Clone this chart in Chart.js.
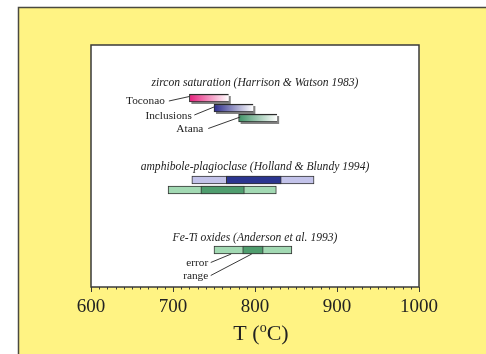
<!DOCTYPE html>
<html>
<head>
<meta charset="utf-8">
<script src="https://cdn.jsdelivr.net/npm/chart.js@4/dist/chart.umd.min.js"></script>
<style>
  html, body { margin: 0; padding: 0; background: #fff; }
  #wrap { width: 486px; height: 354px; }
</style>
</head>
<body>
<div id="wrap"><canvas id="c" width="486" height="354"></canvas></div>
<script>
// temperature axis
const tempMin = 600;
const tempMax = 1000;
const tempStep = 100;
const minorStep = 10;

// zircon saturation (Harrison & Watson 1983)
const zirconNames = ['Toconao', 'Inclusions', 'Atana'];
const zirconRange = [[720, 768], [750, 798], [780, 827]];
const zirconRow = [5.3, 6.3, 7.3];

// amphibole-plagioclase (Holland & Blundy 1994)
const amphError = [[723, 872], [694, 826]];
const amphRange = [[765, 832], [734, 787]];
const amphRow = [13.5, 14.5];

// Fe-Ti oxides (Anderson et al. 1993)
const fetiError = [[750, 845]];
const fetiRange = [[785, 810]];
const fetiRow = [20.5];

const groupTitles = [
  'zircon saturation (Harrison & Watson 1983)',
  'amphibole-plagioclase (Holland & Blundy 1994)',
  'Fe-Ti oxides (Anderson et al. 1993)'
];
const errorNames = ['error', 'range'];

const SERIF = '"Liberation Serif", "DejaVu Serif", serif';
const zirconColors = ['#e6207c', '#2c2c8c', '#3f9467'];

function rows(ranges, ys) {
  return ranges.map((r, i) => ({ x: r, y: ys[i] }));
}

function gradientFill(ctx) {
  const chart = ctx.chart;
  const base = zirconColors[ctx.dataIndex] || '#999';
  if (!chart.chartArea || !ctx.raw) return base;
  const xs = chart.scales.x;
  const g = chart.ctx.createLinearGradient(xs.getPixelForValue(ctx.raw.x[0]), 0, xs.getPixelForValue(ctx.raw.x[1]), 0);
  g.addColorStop(0, base);
  g.addColorStop(1, '#ffffff');
  return g;
}

// background panel, plot box, ticks, annotations
const decor = {
  id: 'decor',
  beforeDraw(chart) {
    const c = chart.ctx, a = chart.chartArea;
    c.save();
    c.fillStyle = '#ffffff';
    c.fillRect(0, 0, chart.width, chart.height);
    c.fillStyle = '#fff383';
    c.fillRect(18, 7, chart.width - 18, chart.height - 7);
    c.strokeStyle = '#4a4a40';
    c.lineWidth = 1.5;
    c.beginPath();
    c.moveTo(18.5, chart.height); c.lineTo(18.5, 7.5); c.lineTo(chart.width, 7.5);
    c.stroke();
    c.fillStyle = '#ffffff';
    c.fillRect(a.left, a.top, a.right - a.left, a.bottom - a.top);
    c.restore();
  },
  beforeDatasetsDraw(chart) {
    // drop shadow behind zircon bars
    const c = chart.ctx;
    const meta = chart.getDatasetMeta(0);
    c.save();
    c.fillStyle = 'rgba(90,90,90,0.75)';
    meta.data.forEach(el => {
      const p = el.getProps(['x', 'y', 'base', 'height'], true);
      c.fillRect(p.base + 2, p.y - p.height / 2 + 2, p.x - p.base, p.height);
    });
    c.restore();
  },
  afterDraw(chart) {
    const c = chart.ctx, a = chart.chartArea;
    const xs = chart.scales.x, ys = chart.scales.y;
    const X = v => xs.getPixelForValue(v), Y = v => ys.getPixelForValue(v);
    c.save();
    // plot box
    c.strokeStyle = '#3a3a3a';
    c.lineWidth = 1.5;
    c.strokeRect(a.left, a.top, a.right - a.left, a.bottom - a.top);
    // ticks
    c.lineWidth = 1;
    c.beginPath();
    for (let v = tempMin; v <= tempMax; v += minorStep) {
      const px = Math.round(X(v)) + 0.5;
      const len = v % tempStep === 0 ? 5 : 2.5;
      c.moveTo(px, a.bottom); c.lineTo(px, a.bottom + len);
    }
    c.stroke();
    // group titles
    c.fillStyle = '#222';
    c.textAlign = 'center';
    c.textBaseline = 'middle';
    c.font = 'italic 11.6px ' + SERIF;
    const titleRows = [3.8, 12.2, 19.3];
    groupTitles.forEach((t, i) => c.fillText(t, X(800), Y(titleRows[i])));
    // labels with leader lines
    c.font = '11.3px ' + SERIF;
    c.textAlign = 'right';
    const notes = [
      { t: zirconNames[0], tx: 690, ty: 5.6, x1: 695, y1: 5.6, x2: 720, y2: 5.15 },
      { t: zirconNames[1], tx: 723, ty: 7.1, x1: 726, y1: 7.0, x2: 750, y2: 6.2 },
      { t: zirconNames[2], tx: 737, ty: 8.4, x1: 743, y1: 8.35, x2: 782, y2: 7.2 },
      { t: errorNames[0], tx: 743, ty: 21.8, x1: 746, y1: 21.75, x2: 771, y2: 20.9 },
      { t: errorNames[1], tx: 743, ty: 23.1, x1: 746, y1: 23.05, x2: 796, y2: 20.9 }
    ];
    c.strokeStyle = '#222';
    c.lineWidth = 0.9;
    notes.forEach(n => {
      c.fillText(n.t, X(n.tx), Y(n.ty));
      c.beginPath();
      c.moveTo(X(n.x1), Y(n.y1)); c.lineTo(X(n.x2), Y(n.y2));
      c.stroke();
    });
    // axis title T (oC)
    c.textAlign = 'left';
    c.textBaseline = 'alphabetic';
    const big = '22px ' + SERIF, small = '14px ' + SERIF;
    c.font = big;
    const w1 = c.measureText('T (').width, w3 = c.measureText('C)').width;
    c.font = small;
    const w2 = c.measureText('o').width;
    let x0 = 261 - (w1 + w2 + w3) / 2;
    const base = 340;
    c.font = big; c.fillText('T (', x0, base);
    c.font = small; c.fillText('o', x0 + w1, base - 8);
    c.font = big; c.fillText('C)', x0 + w1 + w2, base);
    c.restore();
  }
};

const barCommon = { barThickness: 8, grouped: false, borderSkipped: false };

new Chart(document.getElementById('c'), {
  type: 'bar',
  data: {
    datasets: [
      Object.assign({
        label: 'zircon saturation',
        data: rows(zirconRange, zirconRow),
        backgroundColor: gradientFill,
        borderColor: '#2a2a2a',
        borderWidth: { top: 1.5, left: 1, bottom: 1, right: 0 },
        order: 0
      }, barCommon),
      Object.assign({
        label: 'amphibole range',
        data: rows(amphRange, amphRow),
        backgroundColor: ['#2b3590', '#4f9d6e'],
        borderColor: '#333',
        borderWidth: 1,
        order: 1
      }, barCommon),
      Object.assign({
        label: 'amphibole error',
        data: rows(amphError, amphRow),
        backgroundColor: ['#c3c3ea', '#a2d9b3'],
        borderColor: '#333',
        borderWidth: 1,
        order: 2
      }, barCommon),
      Object.assign({
        label: 'Fe-Ti range',
        data: rows(fetiRange, fetiRow),
        backgroundColor: '#4f9d6e',
        borderColor: '#333',
        borderWidth: 1,
        order: 1
      }, barCommon),
      Object.assign({
        label: 'Fe-Ti error',
        data: rows(fetiError, fetiRow),
        backgroundColor: '#a2d9b3',
        borderColor: '#333',
        borderWidth: 1,
        order: 2
      }, barCommon)
    ]
  },
  options: {
    responsive: false,
    devicePixelRatio: 1,
    animation: false,
    indexAxis: 'y',
    layout: { padding: { left: 91, right: 67, top: 45, bottom: 0 } },
    plugins: { legend: { display: false }, tooltip: { enabled: false } },
    scales: {
      x: {
        type: 'linear',
        position: 'bottom',
        min: tempMin,
        max: tempMax,
        grid: { display: false, drawTicks: false },
        border: { display: false },
        ticks: {
          stepSize: tempStep, padding: 9, color: '#222',
          font: { family: SERIF, size: 19 },
          callback: v => String(v)
        },
        afterFit(scale) { scale.height = 67; }
      },
      y: {
        type: 'linear',
        display: false,
        offset: false,
        min: 0,
        max: 24.2,
        reverse: true
      }
    }
  },
  plugins: [decor]
});
</script>
</body>
</html>
